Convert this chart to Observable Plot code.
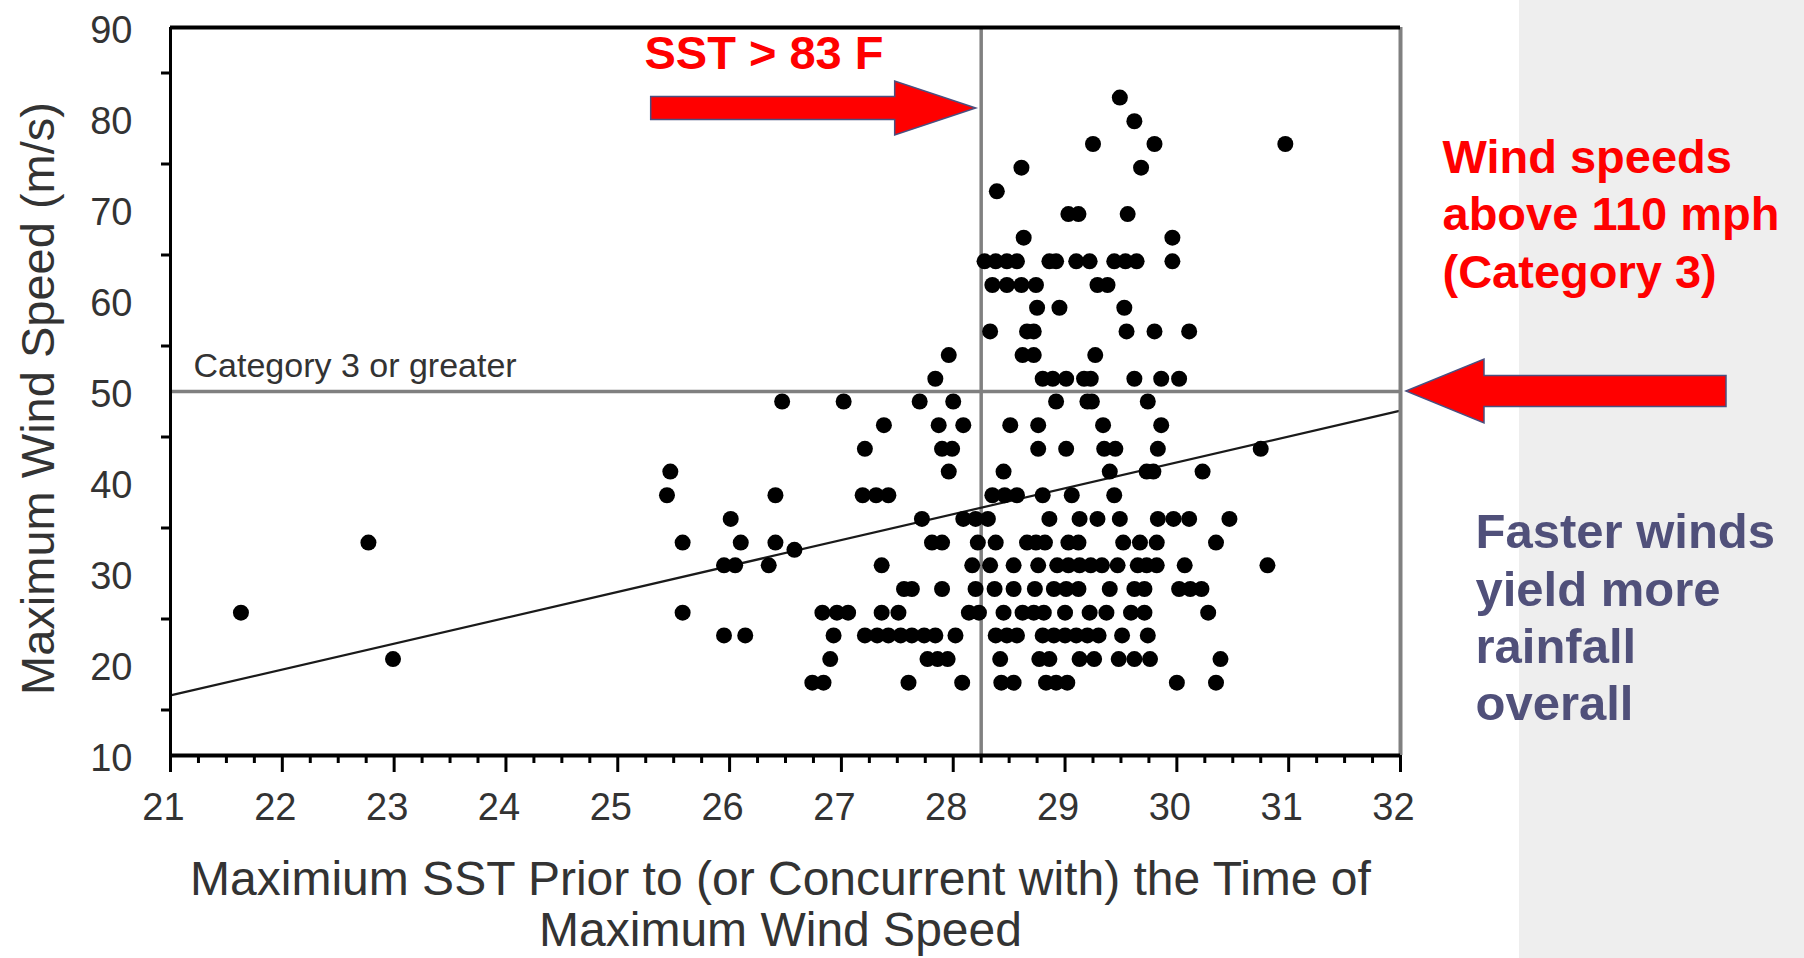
<!DOCTYPE html>
<html><head><meta charset="utf-8">
<script src="https://cdn.jsdelivr.net/npm/d3@7"></script>
<script src="https://cdn.jsdelivr.net/npm/@observablehq/plot@0.6"></script>
<style>
html,body{margin:0;padding:0;background:#fff;overflow:hidden;}
#wrap{position:relative;width:1804px;height:958px;overflow:hidden;}
#bg{position:absolute;left:1519px;top:0;width:285px;height:958px;background:#eeeeee;}
#chart{position:absolute;left:0;top:0;}
</style></head><body>
<div id="wrap"><div id="bg"></div><div id="chart"></div></div>
<script>
// Wind-speed levels (m/s, 5-kt steps) and the SST values (°C) of the storms at each level
const windRows = [82.3, 79.7, 77.2, 74.6, 72.0, 69.5, 66.9, 64.3, 61.7, 59.2, 56.6, 54.0, 51.4, 48.9, 46.3, 43.7, 41.2, 38.6, 36.0, 33.4, 32.6, 30.9, 28.3, 25.7, 23.2, 20.6, 18.0];
const sstRows = [
  [29.49],
  [29.62],
  [29.25, 29.80, 30.97],
  [28.61, 29.68],
  [28.39],
  [29.03, 29.12, 29.56],
  [28.63, 29.96],
  [28.28, 28.38, 28.48, 28.57, 28.86, 28.92, 29.10, 29.22, 29.44, 29.54, 29.64, 29.96],
  [28.35, 28.48, 28.61, 28.74, 29.29, 29.38],
  [28.75, 28.95, 29.53],
  [28.33, 28.66, 28.72, 29.55, 29.80, 30.11],
  [27.96, 28.62, 28.72, 29.27],
  [27.84, 28.80, 28.89, 29.01, 29.17, 29.23, 29.62, 29.86, 30.02],
  [26.47, 27.02, 27.70, 28.00, 28.92, 29.20, 29.24, 29.74],
  [27.38, 27.87, 28.09, 28.51, 28.76, 29.34, 29.86],
  [27.21, 27.90, 27.99, 28.76, 29.01, 29.35, 29.45, 29.83, 30.75],
  [25.47, 27.96, 28.45, 29.40, 29.73, 29.79, 30.23],
  [25.44, 26.41, 27.19, 27.31, 27.42, 28.35, 28.46, 28.57, 28.80, 29.06, 29.44],
  [26.01, 27.72, 28.09, 28.20, 28.31, 28.86, 29.13, 29.29, 29.49, 29.83, 29.97, 30.11, 30.47],
  [22.77, 25.58, 26.10, 26.41, 27.81, 27.90, 28.22, 28.38, 28.66, 28.74, 28.82, 29.03, 29.12, 29.52, 29.67, 29.82, 30.35],
  [26.58],
  [25.95, 26.05, 26.35, 27.36, 28.17, 28.33, 28.54, 28.76, 28.93, 29.03, 29.13, 29.23, 29.33, 29.47, 29.65, 29.73, 29.82, 30.07, 30.81],
  [27.56, 27.63, 27.90, 28.20, 28.37, 28.54, 28.73, 28.90, 29.01, 29.12, 29.40, 29.62, 29.71, 30.02, 30.12, 30.22],
  [21.63, 25.58, 26.83, 26.96, 27.06, 27.36, 27.51, 28.14, 28.23, 28.45, 28.62, 28.72, 28.81, 29.00, 29.22, 29.37, 29.59, 29.71, 30.28],
  [25.95, 26.14, 26.93, 27.21, 27.32, 27.42, 27.53, 27.63, 27.74, 27.84, 28.02, 28.38, 28.48, 28.57, 28.80, 28.90, 29.00, 29.10, 29.20, 29.30, 29.51, 29.74],
  [22.99, 26.90, 27.77, 27.86, 27.95, 28.42, 28.77, 28.86, 29.13, 29.26, 29.48, 29.62, 29.76, 30.39],
  [26.74, 26.84, 27.60, 28.08, 28.43, 28.54, 28.83, 28.92, 29.02, 30.00, 30.35]
];
// Linear fit endpoints
const trendSST = [21, 32];
const trendWind = [16.6, 47.9];
// Reference lines
const sstThreshold = 28.25;   // 83 F
const cat3 = 50;              // Category 3 threshold (m/s)
// Tick labels
const xTickLabels = [21, 22, 23, 24, 25, 26, 27, 28, 29, 30, 31, 32];
const yTickLabels = [10, 20, 30, 40, 50, 60, 70, 80, 90];
// Texts
const yTitle = "Maximum Wind Speed (m/s)";
const xTitle = "Maximium SST Prior to (or Concurrent with) the Time of\nMaximum Wind Speed";
const cat3Label = "Category 3 or greater";
const sstNote = "SST > 83 F";
const windNote = "Wind speeds\nabove 110 mph\n(Category 3)";
const rainNote = "Faster winds\nyield more\nrainfall\noverall";

const points = windRows.flatMap((w, i) => sstRows[i].map(s => ({sst: s, wind: w})));
const trend = trendSST.map((s, i) => ({sst: s, wind: trendWind[i]}));
const xMinor = d3.range(21, 32.001, 0.25).filter(v => !Number.isInteger(v));
const yMinor = d3.range(15, 90, 10);

const axisFont = "'Liberation Sans',Arial,sans-serif";
const noteFont = "'Liberation Sans',Arial,sans-serif";

const chart = Plot.plot({
  width: 1804, height: 958,
  marginLeft: 170, marginRight: 404, marginTop: 27, marginBottom: 203,
  x: {domain: [21, 32]},
  y: {domain: [10, 90]},
  style: {background: "transparent", fontFamily: axisFont, color: "#333", overflow: "visible"},
  marks: [
    Plot.ruleY([cat3], {stroke: "#808080", strokeWidth: 3.5}),
    Plot.ruleX([sstThreshold], {stroke: "#808080", strokeWidth: 3.5}),
    Plot.line(trend, {x: "sst", y: "wind", stroke: "#1a1a1a", strokeWidth: 2.2}),
    Plot.dot(points, {x: "sst", y: "wind", r: 8, fill: "#000"}),
    Plot.ruleX([32], {stroke: "#808080", strokeWidth: 4}),
    Plot.ruleY([90], {stroke: "#000", strokeWidth: 4}),
    Plot.ruleX([21], {stroke: "#000", strokeWidth: 3}),
    Plot.ruleY([10], {stroke: "#000", strokeWidth: 4}),
    Plot.axisX(xMinor, {tickSize: 8, strokeWidth: 3, stroke: "#000", fill: "none", label: null}),
    Plot.axisX(xTickLabels, {tickSize: 17, strokeWidth: 3, stroke: "#000", fill: "none", label: null}),
    Plot.axisX(xTickLabels, {tickSize: 0, tickPadding: 38, fill: "#333", fontSize: 38, dx: -7, tickFormat: d => String(d), label: null}),
    Plot.axisY(yMinor, {tickSize: 9, strokeWidth: 3, stroke: "#000", fill: "none", label: null}),
    Plot.axisY(yTickLabels, {tickSize: 0, tickPadding: 38, fill: "#333", fontSize: 38, dy: 3, tickFormat: d => String(d), label: null}),
    Plot.text([yTitle], {frameAnchor: "left", textAnchor: "middle", rotate: -90, dx: -132, dy: 7, fontSize: 47, fill: "#333"}),
    Plot.text([xTitle], {frameAnchor: "bottom", lineAnchor: "top", dy: 104, dx: -5, fontSize: 48, lineHeight: 1.05, fill: "#333"}),
    Plot.text([cat3Label], {x: [21], y: [cat3], textAnchor: "start", lineAnchor: "bottom", dx: 23, dy: -15, fontSize: 34, fill: "#333"}),
    Plot.text([sstNote], {frameAnchor: "top-left", textAnchor: "start", lineAnchor: "top", dx: 474, dy: 8, fontSize: 47, fontWeight: "bold", fill: "#ff0000", fontFamily: noteFont}),
    Plot.text([windNote], {frameAnchor: "top-right", textAnchor: "start", lineAnchor: "top", dx: 42, dy: 104, fontSize: 47, lineHeight: 1.23, fontWeight: "bold", fill: "#ff0000", fontFamily: noteFont}),
    Plot.text([rainNote], {frameAnchor: "top-right", textAnchor: "start", lineAnchor: "top", dx: 75, dy: 480, fontSize: 49, lineHeight: 1.17, fontWeight: "bold", fill: "#50507a", fontFamily: noteFont})
  ]
});
document.getElementById("chart").appendChild(chart);

// Block arrows anchored to the reference lines
const xs = chart.scale("x"), ys = chart.scale("y");
function blockArrow(tipX, tipY, dir, len, shaftH, headLen, headH) {
  const pts = [[0, 0], [-headLen, -headH / 2], [-headLen, -shaftH / 2], [-len, -shaftH / 2], [-len, shaftH / 2], [-headLen, shaftH / 2], [-headLen, headH / 2]];
  return pts.map(([a, b]) => [tipX + dir * a, tipY + b].join(",")).join(" ");
}
const svg = d3.select(chart);
svg.append("polygon")
  .attr("points", blockArrow(xs.apply(sstThreshold) - 5, ys.apply(90) + 81, 1, 325, 23, 81, 54))
  .attr("fill", "#ff0000").attr("stroke", "#4a5080").attr("stroke-width", 1.5);
svg.append("polygon")
  .attr("points", blockArrow(xs.apply(32) + 6, ys.apply(cat3), -1, 320, 31, 78, 64))
  .attr("fill", "#ff0000").attr("stroke", "#4a5080").attr("stroke-width", 1.5);
</script>
</body></html>
